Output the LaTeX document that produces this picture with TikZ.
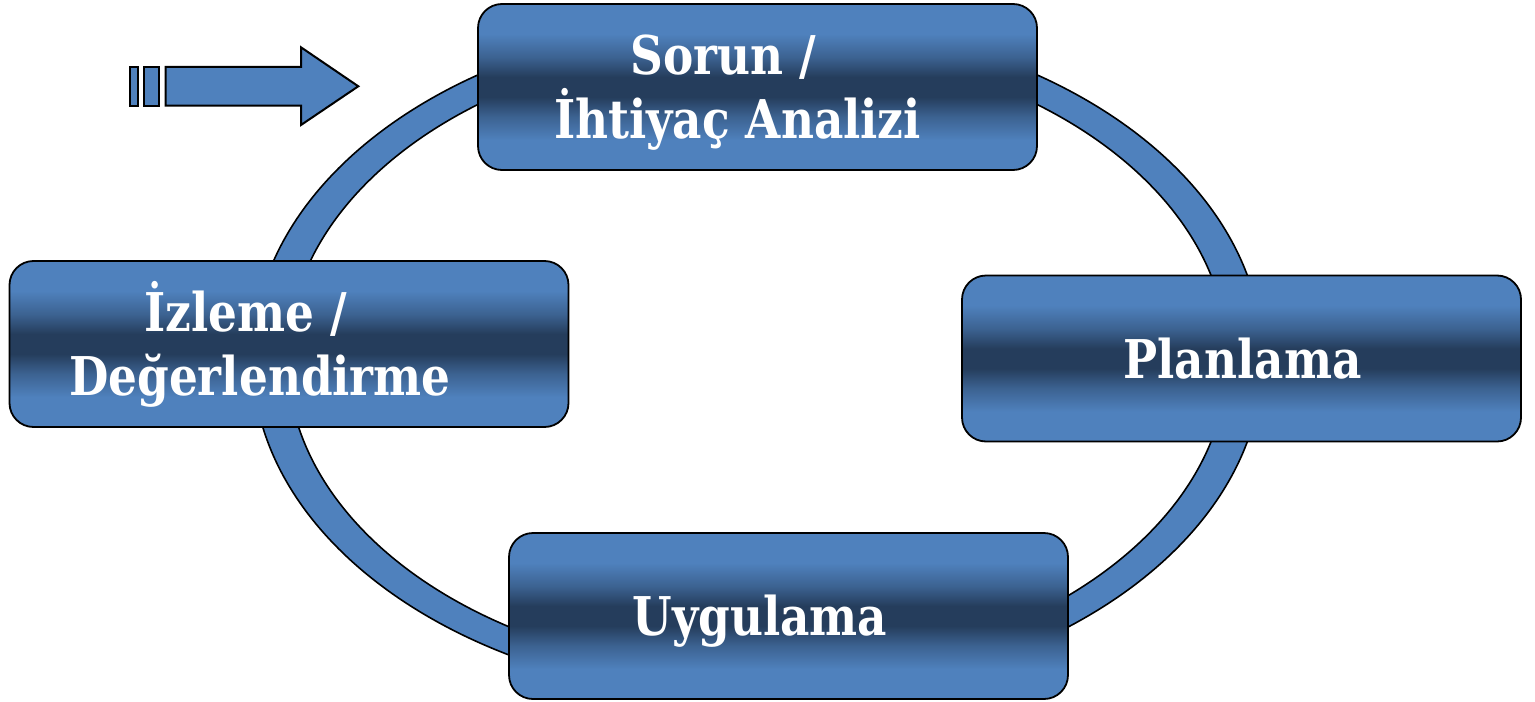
\documentclass[tikz,border=0pt]{standalone}
\usepackage{fontspec}
\newfontfamily\stagefont{DejaVu Serif}[FakeStretch=0.85]
\definecolor{stagelight}{RGB}{79,129,189}
\definecolor{stagedark}{RGB}{37,61,92}
\colorlet{stagemid}{stagelight!55!stagedark}
\definecolor{ringblue}{RGB}{79,129,189}
\pgfdeclareverticalshading{stageshade}{100bp}{color(0bp)=(stagelight); color(25bp)=(stagelight); color(34bp)=(stagelight); color(41bp)=(stagemid); color(47bp)=(stagedark); color(53bp)=(stagedark); color(59bp)=(stagemid); color(66bp)=(stagelight); color(75bp)=(stagelight); color(100bp)=(stagelight)}
\tikzset{
  stagebox/.style={draw=black, line width=0.9pt, rounded corners=12pt, minimum width=279.5pt, minimum height=83pt, inner sep=0pt, shading=stageshade},
  stagetext/.style={text=white, inner sep=0pt, anchor=base, font=\stagefont\bfseries\fontsize{26.7}{31.5}\selectfont},
  ringline/.style={draw=black, line width=0.8pt, fill=ringblue, even odd rule},
  arrowpart/.style={draw=black, line width=1pt, fill=ringblue}
}
\begin{document}
\begin{tikzpicture}[x=0.5pt, y=-0.5pt]
\useasboundingbox (0,0) rectangle (1535,701);

% cycle ring
\path[ringline] (757.5,358.5) ellipse [x radius=505, y radius=340.5]
  (757.5,358.5) ellipse [x radius=470, y radius=316];

% striped arrow
\path[arrowpart] (130,67) rectangle (137.7,105.7);
\path[arrowpart] (144.3,67) rectangle (159.3,105.7);
\path[arrowpart] (165.7,67) -- (301,67) -- (301,47.3) -- (358.3,86.3)
  -- (301,125) -- (301,105.7) -- (165.7,105.7) -- cycle;

% stages
\node[stagebox] (sorun) at (757.5,87) {};
\node[stagebox] (planlama) at (1241.5,358.5) {};
\node[stagebox] (uygulama) at (788.5,616) {};
\node[stagebox] (izleme) at (289,344) {};

\node[stagetext] (sorun-a) at (723.5,75) {Sorun /};
\node[stagetext] (sorun-b) at (737.5,138) {İhtiyaç Analizi};
\node[stagetext] (planlama-a) at (1242.5,378) {Planlama};
\node[stagetext] (uygulama-a) at (760,635) {Uygulama};
\node[stagetext] (izleme-a) at (245.5,331) {İzleme /};
\node[stagetext] (izleme-b) at (260,395) {Değerlendirme};
\end{tikzpicture}
\end{document}
